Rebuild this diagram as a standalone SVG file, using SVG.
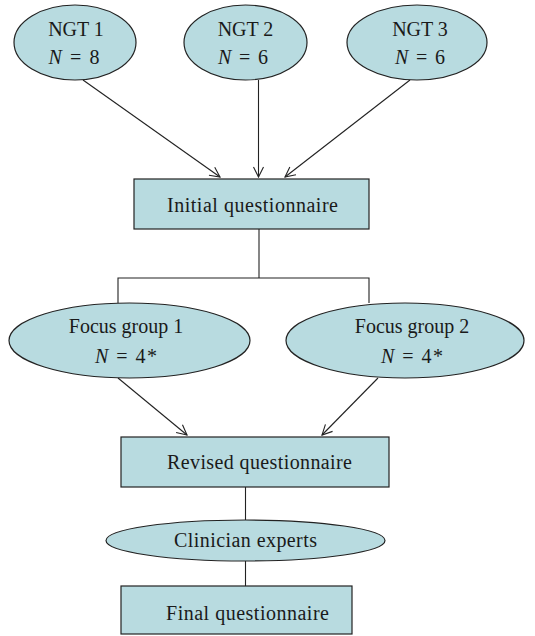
<svg xmlns="http://www.w3.org/2000/svg" width="535" height="636" viewBox="0 0 535 636">
<style>
.n{fill:#b8dbe0;stroke:#222;stroke-width:1.2}
.t{font-family:"Liberation Serif",serif;font-size:20px;fill:#1a1a1a;text-anchor:middle}
.i{font-style:italic}
.c{stroke:#222;stroke-width:1.1;fill:none}
</style>
<defs>
<marker id="a" viewBox="0 0 12 12" refX="11" refY="6" markerWidth="12" markerHeight="12" markerUnits="userSpaceOnUse" orient="auto">
<path d="M1,1 L11,6 L1,11" fill="none" stroke="#222" stroke-width="1.1"/>
</marker>
</defs>
<rect width="535" height="636" fill="#fff"/>
<g id="connectors">
<line class="c" x1="83" y1="80" x2="220" y2="177" marker-end="url(#a)"/>
<line class="c" x1="258.5" y1="80" x2="258.5" y2="177" marker-end="url(#a)"/>
<line class="c" x1="410" y1="80" x2="285" y2="177" marker-end="url(#a)"/>
<polyline class="c" points="259,229 259,278"/>
<polyline class="c" points="118,303 118,278 369,278 369,303"/>
<line class="c" x1="118" y1="378" x2="187" y2="435" marker-end="url(#a)"/>
<line class="c" x1="378" y1="378" x2="322" y2="435" marker-end="url(#a)"/>
<line class="c" x1="245.5" y1="487" x2="245.5" y2="520"/>
<line class="c" x1="245.5" y1="561" x2="245.5" y2="586"/>
</g>
<g id="ngt1">
<ellipse class="n" cx="75" cy="42.5" rx="61" ry="37.5"/>
<text class="t" x="76" y="36">NGT 1</text>
<text class="t" x="74" y="64" textLength="51" lengthAdjust="spacing"><tspan class="i">N</tspan> = 8</text>
</g>
<g id="ngt2">
<ellipse class="n" cx="245.5" cy="42.5" rx="61.5" ry="37.5"/>
<text class="t" x="245.5" y="36">NGT 2</text>
<text class="t" x="243" y="64" textLength="50" lengthAdjust="spacing"><tspan class="i">N</tspan> = 6</text>
</g>
<g id="ngt3">
<ellipse class="n" cx="417" cy="42.5" rx="70" ry="37.5"/>
<text class="t" x="420" y="36">NGT 3</text>
<text class="t" x="420" y="64" textLength="50" lengthAdjust="spacing"><tspan class="i">N</tspan> = 6</text>
</g>
<g id="initial">
<rect class="n" x="134" y="179" width="235" height="50"/>
<text class="t" x="252.5" y="212" textLength="171" lengthAdjust="spacing">Initial questionnaire</text>
</g>
<g id="focus1">
<ellipse class="n" cx="129.5" cy="340.5" rx="120.5" ry="37.5"/>
<text class="t" x="126" y="333">Focus group 1</text>
<text class="t" x="126" y="363" textLength="62" lengthAdjust="spacing"><tspan class="i">N</tspan> = 4*</text>
</g>
<g id="focus2">
<ellipse class="n" cx="405" cy="340.5" rx="119" ry="37.5"/>
<text class="t" x="412" y="333">Focus group 2</text>
<text class="t" x="412" y="363" textLength="62" lengthAdjust="spacing"><tspan class="i">N</tspan> = 4*</text>
</g>
<g id="revised">
<rect class="n" x="121" y="437" width="268" height="50"/>
<text class="t" x="259.5" y="469" textLength="185" lengthAdjust="spacing">Revised questionnaire</text>
</g>
<g id="clinician">
<ellipse class="n" cx="245.5" cy="540.5" rx="139.5" ry="20.5"/>
<text class="t" x="245.5" y="547" textLength="143" lengthAdjust="spacing">Clinician experts</text>
</g>
<g id="final">
<rect class="n" x="121" y="586" width="231" height="48"/>
<text class="t" x="247.5" y="620" textLength="163" lengthAdjust="spacing">Final questionnaire</text>
</g>
</svg>
